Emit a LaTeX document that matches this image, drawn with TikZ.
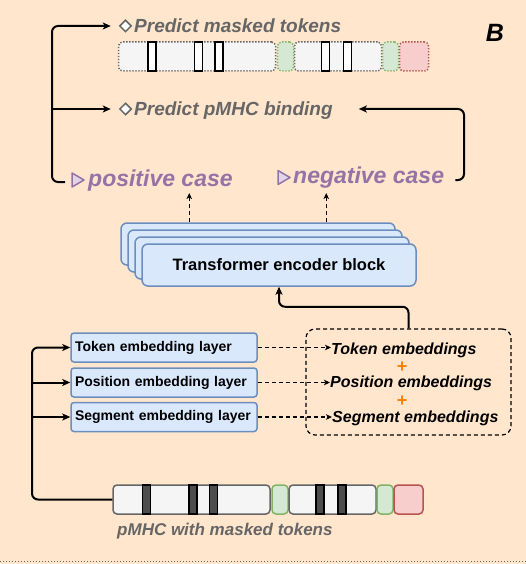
\documentclass[tikz,border=0pt]{standalone}
\usepackage{fontspec}
\setmainfont{Liberation Sans}
\usetikzlibrary{arrows.meta,shapes.geometric}
\definecolor{bgc}{HTML}{FFE6CC}
\definecolor{txtgray}{HTML}{666666}
\definecolor{purp}{HTML}{9673A6}
\definecolor{purpfill}{HTML}{E1D5E7}
\definecolor{bfill}{HTML}{DAE8FC}
\definecolor{bline}{HTML}{6C8EBF}
\definecolor{sfill}{HTML}{F5F5F5}
\definecolor{sline}{HTML}{666666}
\definecolor{gfill}{HTML}{D5E8D4}
\definecolor{gline}{HTML}{82B366}
\definecolor{rfill}{HTML}{F8CECC}
\definecolor{rline}{HTML}{B85450}
\definecolor{barfill}{HTML}{4D4D4D}
\definecolor{plusc}{HTML}{FF8000}
\newcommand\fsz[1]{\fontsize{#1}{#1}\selectfont}
\begin{document}
\begin{tikzpicture}[x=1pt,y=-1pt,
  conn/.style={line width=2pt, rounded corners=6pt, -{Stealth[length=8pt,width=7pt,inset=2pt]}},
  darr/.style={line width=1.2pt, dash pattern=on 4pt off 3pt, -{Stealth[length=6pt,width=5.5pt,inset=1.5pt]}},
  layer/.style={draw=bline, fill=bfill, line width=1.5pt, rounded corners=3pt, minimum width=186pt, minimum height=29pt, font=\bfseries\fsz{14}, inner xsep=4pt, text width=178pt, align=left},
  encbox/.style={draw=bline, fill=bfill, line width=1.5pt, rounded corners=6pt, minimum width=274pt, minimum height=42pt},
  seqw/.style={draw=sline, fill=sfill, line width=1.5pt, rounded corners=4pt, minimum height=29pt, inner sep=0pt},
  seqg/.style={draw=gline, fill=gfill, line width=1.5pt, rounded corners=4pt, minimum height=29pt, inner sep=0pt},
  seqr/.style={draw=rline, fill=rfill, line width=1.5pt, rounded corners=4pt, minimum height=29pt, inner sep=0pt},
  darkbar/.style={draw=black, fill=barfill, line width=1.2pt, minimum width=8pt, minimum height=29pt, inner sep=0pt},
  openbar/.style={draw=black, fill=white, line width=1.5pt, minimum width=8pt, minimum height=29pt, inner sep=0pt},
  dotb/.style={dash pattern=on 1.3pt off 1.7pt},
  bullet/.style={diamond, aspect=1, draw=txtgray, fill=white, line width=1.5pt, minimum size=12pt, inner sep=0pt},
  tri/.style={draw=purp, fill=purpfill, line width=1.5pt, line join=round},
  graylbl/.style={font=\bfseries\itshape\fsz{19}, text=txtgray, anchor=base west, inner sep=0pt},
  purplbl/.style={font=\bfseries\itshape\fsz{23}, text=purp, anchor=base west, inner sep=0pt},
  emblbl/.style={font=\bfseries\itshape\fsz{16}, anchor=base west, inner sep=0pt},
  pluslbl/.style={font=\bfseries\fsz{18}, text=plusc, inner sep=0pt}
]
\useasboundingbox[fill=bgc] (0,0) rectangle (526,564);
\draw[txtgray, line width=1pt, dash pattern=on 1pt off 2pt] (0,561) -- (526,561);

% letter
\node[font=\bfseries\itshape\fsz{25}, anchor=base, inner sep=0pt] (lblB) at (495,42) {B};

% top labels
\node[bullet] (d1) at (125.5,26) {};
\node[bullet] (d2) at (125.5,109) {};
\node[graylbl] (pm) at (134,32.5) {Predict masked tokens};
\node[graylbl] (pb) at (134,116) {Predict pMHC binding};

% top (predicted) sequence
\node[seqw, dotb, minimum width=157pt] (ts1) at (197,56.5) {};
\node[seqg, dotb, minimum width=16pt] (tg1) at (285.5,56.5) {};
\node[seqw, dotb, minimum width=87pt] (ts2) at (338,56.5) {};
\node[seqg, dotb, minimum width=16pt] (tg2) at (390.5,56.5) {};
\node[seqr, dotb, minimum width=29pt] (tr1) at (414,56.5) {};
\node[openbar] (tb1) at (152.2,56.5) {};
\node[openbar] (tb2) at (198.5,56.5) {};
\node[openbar] (tb3) at (219,56.5) {};
\node[openbar] (tb4) at (325.5,56.5) {};
\node[openbar] (tb5) at (347.5,56.5) {};

% cases
\node[purplbl] (pos) at (88,186) {positive case};
\node[purplbl] (neg) at (293,183) {negative case};
\draw[tri] (72,173) -- (84,180) -- (72,187) -- cycle;
\draw[tri] (278,170.5) -- (290,177.5) -- (278,184.5) -- cycle;

% brackets
\coordinate (pmA) at ([xshift=-8pt]d1.west);
\coordinate (pbA) at ([xshift=-8pt]d2.west);
\coordinate (pbB) at ([xshift=26pt,yshift=7pt]pb.base east);
\coordinate (lx) at (52,0);
\coordinate (rx) at (464,0);
\draw[conn] ([xshift=-23pt,yshift=4pt]pos.base west) -| (lx |- pmA) -- (pmA);
\draw[conn] (lx |- pbA) -- (pbA);
\draw[conn] ([xshift=11pt,yshift=3pt]neg.base east) -| (rx |- pbB) -- (pbB);

% transformer stack
\node[encbox] (st1) at (258,244) {};
\node[encbox] (st2) at (265,251) {};
\node[encbox] (st3) at (272,258) {};
\node[encbox, font=\bfseries\fsz{16.5}] (enc) at (279,265) {Transformer encoder block};

\coordinate (u1) at ([xshift=69pt]st1.north west);
\coordinate (u2) at ([xshift=206pt]st1.north west);
\coordinate (t1) at ([yshift=-7pt]pos.base);
\draw[darr] (u1) -- (u1 |- t1);
\draw[darr] (u2) -- (u2 |- t1);

% embedding layers
\node[layer] (tokl) at (164,347.5) {Token embedding layer};
\node[layer] (posl) at (164,382.5) {Position embedding layer};
\node[layer] (segl) at (164,417) {Segment embedding layer};

% embeddings sum box
\node[draw, line width=1.2pt, dash pattern=on 4pt off 3pt, rounded corners=9pt, minimum width=205pt, minimum height=106pt] (eb) at (408.5,382) {};
\node[emblbl] (tokE) at (331,354) {Token embeddings};
\node[emblbl] (posE) at (330,387.5) {Position embeddings};
\node[emblbl] (segE) at (332,422.5) {Segment embeddings};
\node[pluslbl] (p1) at (402,367) {+};
\node[pluslbl] (p2) at (402,401) {+};

\draw[darr] (tokl.east) -- (tokl.east -| tokE.west);
\draw[darr] (posl.east) -- (posl.east -| posE.west);
\draw[darr] (segl.east) -- (segl.east -| segE.west);

\draw[conn] (eb.north) |- ([yshift=-20pt]enc.south) -- (enc.south);

% input sequence
\node[seqw, minimum width=157pt] (s1) at (191.5,499.5) {};
\node[seqg, minimum width=16pt] (g1) at (280,499.5) {};
\node[seqw, minimum width=87pt] (s2) at (332.5,499.5) {};
\node[seqg, minimum width=16pt] (g2) at (385,499.5) {};
\node[seqr, minimum width=29pt] (r1) at (408.5,499.5) {};
\node[darkbar] (b1) at (146.7,499.5) {};
\node[darkbar] (b2) at (193,499.5) {};
\node[darkbar] (b3) at (213.5,499.5) {};
\node[darkbar] (b4) at (320,499.5) {};
\node[darkbar] (b5) at (342,499.5) {};
\node[font=\bfseries\itshape\fsz{17}, text=txtgray, anchor=base west, inner sep=0pt] (lab) at (117,535.5) {pMHC with masked tokens};

\coordinate (lx2) at (32,0);
\draw[conn] (s1.west) -| (lx2 |- tokl.west) -- (tokl.west);
\draw[conn] (lx2 |- posl.west) -- (posl.west);
\draw[conn] (lx2 |- segl.west) -- (segl.west);
\end{tikzpicture}
\end{document}
